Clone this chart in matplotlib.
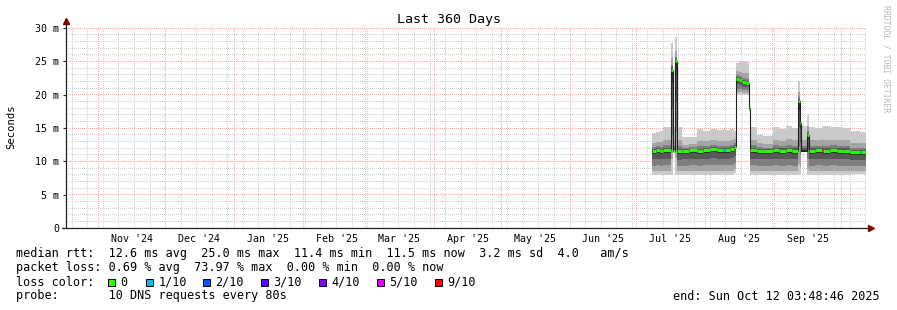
import numpy as np
import pandas as pd
import matplotlib
matplotlib.use('Agg')
import matplotlib.pyplot as plt
from matplotlib.patches import Rectangle

# graph window (360 days)
start = pd.Timestamp('2024-10-17 03:48:46')
end = pd.Timestamp('2025-10-12 03:48:46')
base = pd.Timestamp('2025-07-01')

# samples: day offset from Jul 1 2025 at which each value starts
day = [6.7, 8.5, 10.5, 12.0, 15.3, 16.1, 17.2, 18.0, 20.2, 23.5,
       27.0, 30.0, 33.0, 36.0, 39.0, 39.6, 42.0, 43.9, 44.5, 46.0,
       47.5, 49.0, 50.3, 51.0, 53.9, 57.0, 61.4, 64.0, 67.0, 70.0,
       72.7, 73.5, 74.0, 76.7, 77.5, 80.0, 83.2, 83.8, 87.0, 90.0,
       93.0, 95.9, 100.3, 100.8]
# median rtt (ms)
med = [11.6, 11.7, 11.6, 11.7, 23.7, 11.6, 25.0, 11.5, 11.6, 11.7,
       11.6, 11.7, 11.8, 11.7, 11.7, 11.7, 11.8, 12.2, 22.4, 22.2,
       21.9, 21.8, 18.0, 11.7, 11.6, 11.6, 11.7, 11.6, 11.7, 11.6,
       19.1, 15.7, 11.6, 14.0, 11.6, 11.7, 11.7, 11.6, 11.7, 11.6,
       11.6, 11.4, 11.4, 11.4]
# highest ping (top of smoke), ms
top = [14.2, 14.4, 14.6, 15.2, 27.8, 15.2, 28.6, 15.2, 13.6, 13.7,
       14.8, 14.6, 14.9, 14.7, 14.8, 14.7, 14.8, 14.6, 24.8, 25.0,
       25.0, 24.9, 18.6, 15.2, 14.0, 13.8, 15.1, 14.9, 15.3, 15.0,
       22.0, 16.5, 15.3, 17.0, 15.2, 15.0, 15.3, 15.3, 15.1, 15.2,
       15.0, 14.5, 14.4, 14.4]
# lowest ping (bottom of smoke), ms
bot = [8.0, 8.0, 8.0, 8.0, 8.0, 11.6, 8.0, 8.0, 8.0, 8.0,
       8.0, 8.0, 8.0, 8.0, 8.0, 8.0, 8.0, 8.2, 20.0, 20.0,
       20.0, 20.0, 17.5, 8.0, 8.0, 8.0, 8.0, 8.0, 8.0, 8.0,
       8.0, 8.0, 11.5, 8.0, 8.0, 8.0, 8.0, 8.0, 8.0, 8.0,
       8.0, 8.1, 8.1, 8.1]
# packet loss (x/10), -1 = not drawn
loss = [0, 0, 0, 0, 0, 0, 0, 0, 0, 0,
        0, 0, 0, 0, 1, 0, 0, 0, 0, 0,
        0, 0, 0, 0, 0, 0, 0, 0, 0, 0,
        0, 0, -1, 0, 0, 0, 9, 0, 0, 0,
        0, 0, 1, 0]

loss_colors = {0: '#26ff00', 1: '#00b8ff', 2: '#0059ff', 3: '#5e00ff',
               4: '#7e00ff', 5: '#dd00ff', 9: '#ff0000'}
loss_names = ['0', '1/10', '2/10', '3/10', '4/10', '5/10', '9/10']
month_labels = ["Nov '24", "Dec '24", "Jan '25", "Feb '25", "Mar '25", "Apr '25",
                "May '25", "Jun '25", "Jul '25", "Aug '25", "Sep '25"]

W, H = 897, 310
fig = plt.figure(figsize=(W / 100, H / 100), dpi=100)
fig.patch.set_facecolor('white')
ax = fig.add_axes([66 / W, 1 - 228 / H, 800 / W, 200 / H])
ax.set_facecolor('white')
mono = 'DejaVu Sans Mono'
span = (end - start) / pd.Timedelta(days=1)


def fx(x):
    return x / W


def fy(y):
    return 1 - y / H


def snap_t(d):
    # put a vertical grid line right on a pixel column
    px = 66 + (d - start) / pd.Timedelta(days=1) / span * 800
    return start + pd.Timedelta(days=(np.floor(px) + 0.5 - 66) / 800 * span)


def snap_v(v):
    row = np.floor(228 - v * 200 / 30.0)
    return (228 - row - 0.5) * 30 / 200.0


# time arrays
t = [base + pd.Timedelta(days=d) for d in day] + [end]
med_e = np.array(med + [med[-1]])
top_e = np.array(top + [top[-1]])
bot_e = np.array(bot + [bot[-1]])

# grid, dotted 1px on / 1px off
gkw = dict(lw=0.72, dashes=(1, 1), snap=False, zorder=1)
for v in range(1, 30):
    if v % 5:
        ax.axhline(snap_v(v), color='#d0d0d0', **gkw)
for v in range(5, 31, 5):
    ax.axhline(snap_v(v), color='#f2b0b0', **gkw)
wk = pd.date_range('2024-10-20', end, freq='7D')
for d in wk:
    ax.axvline(snap_t(d), color='#d0d0d0', **gkw)
ms = pd.date_range('2024-11-01', end, freq='MS')
for d in ms:
    ax.axvline(snap_t(d), color='#f2b0b0', **gkw)

# smoke
shades = ['#cacaca', '#a4a4a4', '#7e7e7e', '#585858', '#323232']
fh = [1.0, 0.45, 0.2, 0.1, 0.04]
fl = [1.0, 0.85, 0.62, 0.36, 0.12]
for c, a, b in zip(shades, fh, fl):
    hi = med_e + (top_e - med_e) * a
    lo = med_e - (med_e - bot_e) * b
    ax.fill_between(t, lo, hi, step='post', color=c, lw=0, zorder=2)

# median line
ax.step(t, med_e, where='post', color='#202020', lw=0.8, zorder=3)
for i in range(len(day)):
    if loss[i] < 0:
        continue
    ax.hlines(med[i], t[i], t[i + 1], colors=loss_colors[loss[i]], lw=2.2, zorder=4)

ax.set_xlim(start, end)
ax.set_ylim(0, 30)
for s in ax.spines.values():
    s.set_visible(False)

# y ticks
ax.set_yticks(range(0, 31, 5))
ax.set_yticklabels(['0'] + ['%d m' % v for v in range(5, 31, 5)])
ax.tick_params(axis='y', which='major', length=2, width=0.8, color='#202020', pad=3,
               labelsize=7.2)
for lab in ax.get_yticklabels():
    lab.set_family(mono)

# x ticks (labels mid-month)
ax.set_xticks([d + pd.Timedelta(days=15) for d in ms[:len(month_labels)]])
ax.set_xticklabels(month_labels)
ax.tick_params(axis='x', length=0, pad=4, labelsize=7.2)
for lab in ax.get_xticklabels():
    lab.set_family(mono)

# axes with arrows
ax.plot([start, start], [0, 30.9], color='#202020', lw=0.9, clip_on=False, zorder=5)
ax.plot([start - pd.Timedelta(days=1.8), end + pd.Timedelta(days=1.5)], [0, 0],
        color='#202020', lw=0.9, clip_on=False, zorder=5)
ax.plot([start], [31.0], marker='^', ms=4, color='#800000', clip_on=False, zorder=6)
ax.plot([end + pd.Timedelta(days=2.2)], [0], marker='>', ms=4, color='#800000',
        clip_on=False, zorder=6)

# texts
fig.text(0.5, fy(19), 'Last 360 Days', ha='center', va='center', family=mono, fontsize=9.6)
fig.text(fx(11), fy(127), 'Seconds', rotation=90, ha='center', va='center',
         family=mono, fontsize=7.6)
fig.text(fx(886), fy(59), 'RRDTOOL / TOBI OETIKER', rotation=270, ha='center',
         va='center', family=mono, fontsize=5.9, color='#b8b8b8')

lf = 8.5
fig.text(fx(16), fy(254), 'median rtt:  12.6 ms avg  25.0 ms max  11.4 ms min  '
         '11.5 ms now  3.2 ms sd  4.0   am/s', va='center', family=mono, fontsize=lf)
fig.text(fx(16), fy(268), 'packet loss: 0.69 % avg  73.97 % max  0.00 % min  0.00 % now',
         va='center', family=mono, fontsize=lf)
fig.text(fx(16), fy(282), 'loss color:', va='center', family=mono, fontsize=lf)
box_x = [108, 146, 203, 261, 319, 377, 435]
for bx, name, key in zip(box_x, loss_names, [0, 1, 2, 3, 4, 5, 9]):
    fig.patches.append(Rectangle((fx(bx), fy(285.5)), 7 / W, 7 / H, transform=fig.transFigure,
                                 facecolor=loss_colors[key], edgecolor='black', lw=0.7))
    fig.text(fx(bx + 12.5), fy(282), name, va='center', family=mono, fontsize=lf)
fig.text(fx(16), fy(296), 'probe:       10 DNS requests every 80s', va='center',
         family=mono, fontsize=lf)
fig.text(fx(880), fy(296), 'end: Sun Oct 12 03:48:46 2025', ha='right', va='center',
         family=mono, fontsize=lf)

fig.savefig('out.png', dpi=100, facecolor='white')
